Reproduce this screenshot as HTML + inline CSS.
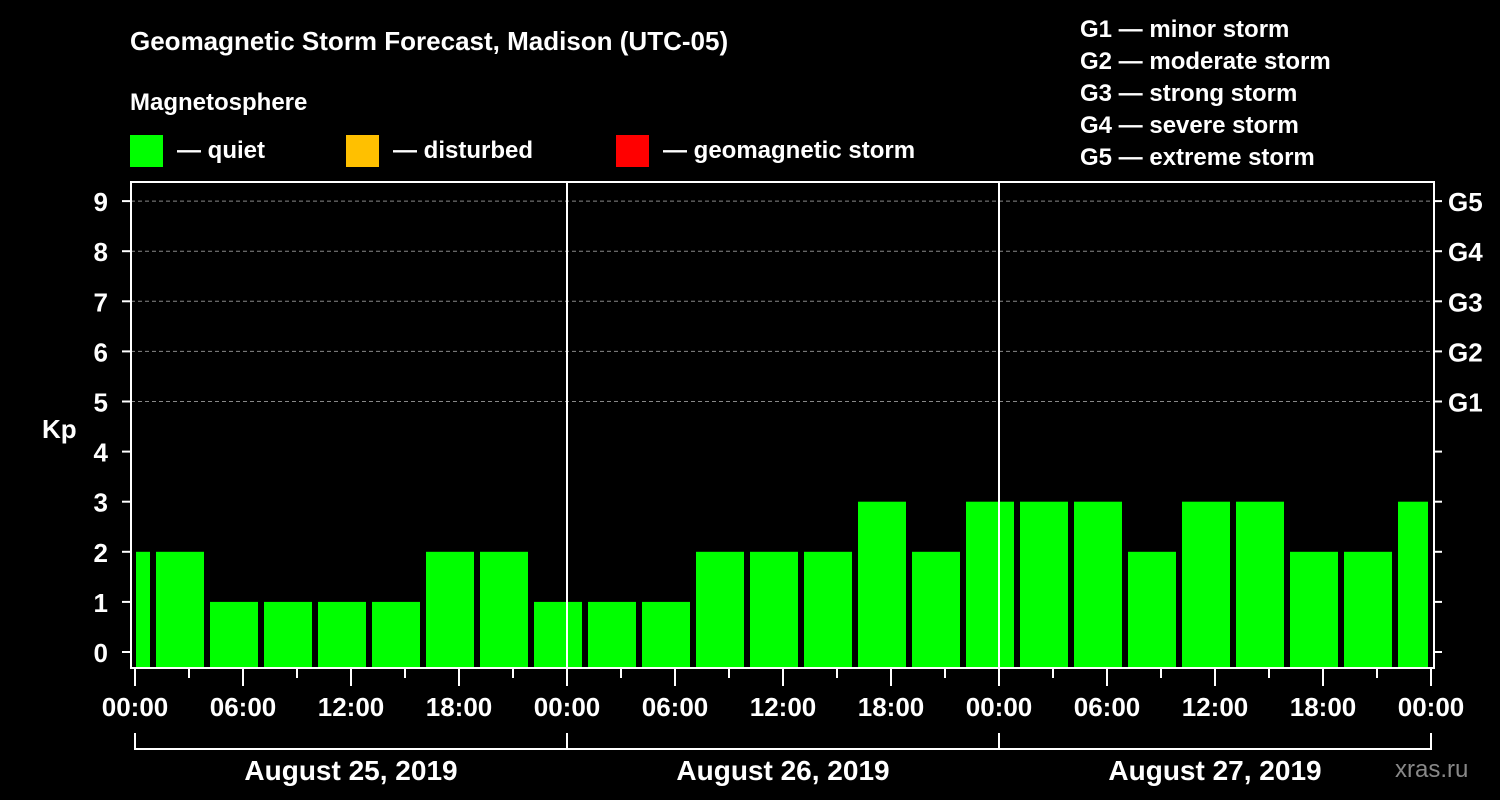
<!DOCTYPE html>
<html><head><meta charset="utf-8"><style>
html,body{margin:0;padding:0;background:#000;}
svg{display:block;font-family:"Liberation Sans",Arial,sans-serif;font-weight:bold;}
</style></head><body>
<svg id="chart" width="1500" height="800" viewBox="0 0 1500 800">
<rect width="1500" height="800" fill="#000"/>
<text x="130" y="50" fill="#fff" font-size="26">Geomagnetic Storm Forecast, Madison (UTC-05)</text>
<text x="130" y="110" fill="#fff" font-size="24">Magnetosphere</text>
<g><rect x="130" y="135" width="33" height="32" fill="#00ff00"/><text x="177" y="158" fill="#fff" font-size="24">— quiet</text></g>
<g><rect x="346" y="135" width="33" height="32" fill="#ffc000"/><text x="393" y="158" fill="#fff" font-size="24">— disturbed</text></g>
<g><rect x="616" y="135" width="33" height="32" fill="#ff0000"/><text x="663" y="158" fill="#fff" font-size="24">— geomagnetic storm</text></g>
<g fill="#fff" font-size="24">
<text x="1080" y="37">G1 — minor storm</text>
<text x="1080" y="69">G2 — moderate storm</text>
<text x="1080" y="101">G3 — strong storm</text>
<text x="1080" y="133">G4 — severe storm</text>
<text x="1080" y="165">G5 — extreme storm</text>
</g>
<text x="42" y="438" fill="#fff" font-size="26">Kp</text>
<text x="1395" y="777" fill="#888" font-size="24" font-weight="normal">xras.ru</text>
<g id="grid"></g>
<g id="bars"></g>
<g id="axes"></g>
</svg>
<script>
const kpValues=[2,2,1,1,1,1,2,2,1,1,1,2,2,2,3,2,3,3,3,2,3,3,2,2,3];
const firstBinHour=-2;
const yTicks=[0,1,2,3,4,5,6,7,8,9];
const gLabels=["G1","G2","G3","G4","G5"];
const gLevels=[5,6,7,8,9];
const xTickLabels=["00:00","06:00","12:00","18:00","00:00","06:00","12:00","18:00","00:00","06:00","12:00","18:00","00:00"];
const dayLabels=["August 25, 2019","August 26, 2019","August 27, 2019"];
const NS="http://www.w3.org/2000/svg";
const L=131,R=1434,T=182,B=668,X0=135,PXH=18;
const xs=h=>X0+h*PXH;
const ys=v=>652-v*50.1;
function mk(p,tag,a){const e=document.createElementNS(NS,tag);for(const k in a)e.setAttribute(k,a[k]);p.appendChild(e);return e;}
const grid=document.getElementById('grid'),bars=document.getElementById('bars'),axes=document.getElementById('axes');
gLevels.forEach((v,i)=>{
 const l=mk(grid,'line',{x1:L,x2:R,y1:ys(v),y2:ys(v),stroke:'#888','stroke-dasharray':'4,3','stroke-width':1});
 
 
 const t=mk(axes,'text',{x:1448,y:ys(v)+10,fill:'#fff','font-size':26});t.textContent=gLabels[i];
 
 
});
kpValues.forEach((v,i)=>{
 const h0=firstBinHour+i*3;
 let x1=xs(h0)+3,x2=xs(h0+3)-3;
 x1=Math.max(x1,L+5);x2=Math.min(x2,R-6);
 const r=mk(bars,'rect',{x:x1,y:ys(v),width:x2-x1,height:B-ys(v),fill:v>=5?'#ff0000':(v>=4?'#ffc000':'#00ff00')});
 
 
});
[xs(24),xs(48)].forEach(x=>{
 const l=mk(axes,'line',{x1:x,x2:x,y1:T,y2:B,stroke:'#fff','stroke-width':2});
 
 
});
const fr=mk(axes,'rect',{x:L,y:T,width:R-L,height:B-T,fill:'none',stroke:'#fff','stroke-width':2});


yTicks.forEach(v=>{
 mk(axes,'line',{x1:122,x2:L,y1:ys(v),y2:ys(v),stroke:'#fff','stroke-width':2});
 mk(axes,'line',{x1:R,x2:1442,y1:ys(v),y2:ys(v),stroke:'#fff','stroke-width':2});
 const t=mk(axes,'text',{x:108,y:ys(v)+10,fill:'#fff','font-size':26,'text-anchor':'end'});t.textContent=v;
 
 
});
for(let h=0;h<=72;h+=3){
 const major=h%6===0;
 mk(axes,'line',{x1:xs(h),x2:xs(h),y1:B,y2:major?686:678,stroke:'#fff','stroke-width':2});
}
xTickLabels.forEach((s,i)=>{
 const t=mk(axes,'text',{x:xs(i*6),y:716,fill:'#fff','font-size':26,'text-anchor':'middle'});t.textContent=s;
 
 
});
mk(axes,'line',{x1:xs(0),x2:xs(72),y1:749,y2:749,stroke:'#fff','stroke-width':2});
for(let d=0;d<=3;d++)mk(axes,'line',{x1:xs(d*24),x2:xs(d*24),y1:733,y2:750,stroke:'#fff','stroke-width':2});
dayLabels.forEach((s,i)=>{
 const t=mk(axes,'text',{x:xs(i*24+12),y:780,fill:'#fff','font-size':28,'text-anchor':'middle'});t.textContent=s;
 
 
});
</script>
</body></html>
